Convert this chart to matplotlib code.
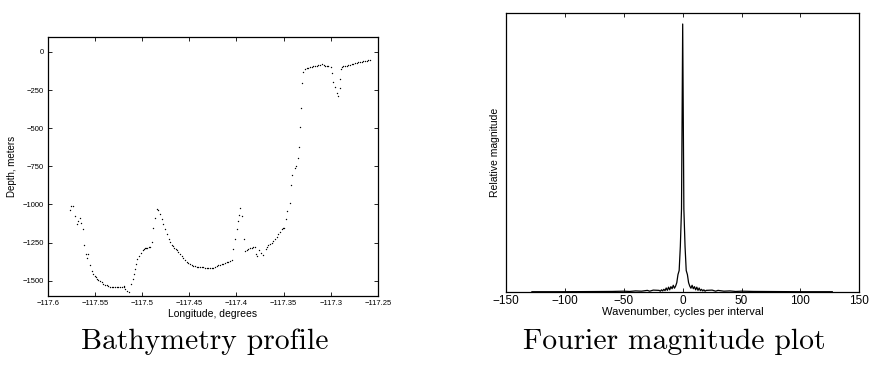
import matplotlib
matplotlib.use('Agg')
import matplotlib.pyplot as plt

plt.rcParams['font.family'] = ['Liberation Sans', 'DejaVu Sans']
plt.rcParams['axes.unicode_minus'] = True

# Bathymetry profile (longitude in degrees, depth in meters)
lon = [-117.5763, -117.5753, -117.5728, -117.5710, -117.5692, -117.5675, -117.5657,
       -117.5647, -117.5629, -117.5611, -117.5594, -117.5580, -117.5569, -117.5551,
       -117.5533, -117.5516, -117.5500, -117.5490, -117.5476, -117.5463, -117.5445,
       -117.5427, -117.5410, -117.5392, -117.5375, -117.5357, -117.5340, -117.5322,
       -117.5304, -117.5286, -117.5268, -117.5250, -117.5232, -117.5214, -117.5196,
       -117.5190, -117.5180, -117.5162, -117.5134,
       -117.5116, -117.5099, -117.5084, -117.5074, -117.5063, -117.5049, -117.5031,
       -117.5014, -117.4993, -117.4980, -117.4968, -117.4955, -117.4943, -117.4930,
       -117.4915, -117.4897, -117.4879, -117.4862, -117.4844, -117.4826, -117.4809,
       -117.4791, -117.4773, -117.4756, -117.4738, -117.4713, -117.4700, -117.4685,
       -117.4672, -117.4660, -117.4645, -117.4632, -117.4615, -117.4597, -117.4580,
       -117.4561, -117.4545, -117.4526, -117.4510, -117.4490, -117.4472, -117.4455,
       -117.4438, -117.4420, -117.4402, -117.4385, -117.4367, -117.4349, -117.4331,
       -117.4313, -117.4296, -117.4278, -117.4260, -117.4250, -117.4230, -117.4208,
       -117.4190, -117.4172, -117.4155, -117.4137, -117.4120, -117.4102, -117.4085,
       -117.4067, -117.4042,
       -117.4031, -117.4013, -117.3996, -117.3985, -117.3971, -117.3957, -117.3943,
       -117.3922, -117.3908, -117.3890, -117.3872, -117.3855, -117.3837, -117.3820,
       -117.3802, -117.3791, -117.3777, -117.3756, -117.3738, -117.3713, -117.3689,
       -117.3675, -117.3660, -117.3642, -117.3625, -117.3608, -117.3590, -117.3572,
       -117.3555, -117.3538, -117.3520, -117.3505, -117.3491, -117.3473, -117.3459,
       -117.3437, -117.3423, -117.3406, -117.3384, -117.3367, -117.3349, -117.3338,
       -117.3328, -117.3317, -117.3306, -117.3289, -117.3271, -117.3254, -117.3236,
       -117.3218, -117.3200, -117.3183, -117.3165, -117.3148, -117.3130, -117.3112,
       -117.3094, -117.3076, -117.3059, -117.3041, -117.3024, -117.2995, -117.2985,
       -117.2971, -117.2953, -117.2935, -117.2924, -117.2907, -117.2900, -117.2893,
       -117.2880, -117.2865, -117.2848, -117.2830, -117.2812, -117.2795, -117.2777,
       -117.2759, -117.2741, -117.2723, -117.2706, -117.2688, -117.2670, -117.2653,
       -117.2635, -117.2618, -117.2600, -117.2583]
depth = [-1037, -1007, -1011, -1076, -1130, -1109, -1087,
         -1120, -1163, -1265, -1326, -1348, -1326, -1396,
         -1435, -1457, -1470, -1478, -1488, -1496, -1504,
         -1511, -1519, -1526, -1531, -1537, -1539, -1539,
         -1539, -1540, -1541, -1541, -1540, -1539, -1538,
         -1537, -1554, -1565, -1576,
         -1522, -1489, -1457, -1424, -1391, -1359, -1337,
         -1315, -1298, -1292, -1287, -1285, -1283, -1280,
         -1276, -1246, -1152, -1091, -1028, -1037, -1065,
         -1098, -1130, -1163, -1196, -1228, -1246, -1265,
         -1275, -1283, -1292, -1300, -1311, -1322, -1335,
         -1348, -1362, -1376, -1386, -1393, -1398, -1402,
         -1405, -1407, -1409, -1410, -1411, -1413, -1414,
         -1415, -1417, -1417, -1418, -1417, -1410, -1402,
         -1398, -1394, -1391, -1388, -1384, -1380, -1376,
         -1372, -1365,
         -1293, -1228, -1163, -1109, -1072, -1022, -1076,
         -1228, -1304, -1296, -1289, -1286, -1283, -1280,
         -1276, -1326, -1337, -1298, -1315, -1333, -1289,
         -1278, -1267, -1258, -1250, -1240, -1228, -1212,
         -1196, -1180, -1163, -1156, -1152, -1098, -1043,
         -993, -870, -804, -761, -750, -696, -620,
         -489, -365, -202, -130, -109, -105, -102,
         -99, -96, -93, -91, -89, -87, -84,
         -80, -84, -89, -91, -93, -100, -141,
         -196, -233, -272, -289, -239, -178, -113,
         -98, -93, -91, -89, -87, -84, -80,
         -76, -73, -70, -67, -65, -63, -61,
         -59, -57, -56, -54]

# Fourier magnitude (wavenumber, relative magnitude)
wavenumber = [-128, -100, -80, -60, -50, -45, -40, -35, -30, -28, -25,
              -20, -19, -18, -17, -16, -15, -14, -13, -12, -11, -10,
              -9, -8, -7, -6, -5, -4, -3, -2, -1, 0,
              1, 2, 3, 4, 5, 6, 7, 8, 9, 10,
              11, 12, 13, 14, 15, 16, 17, 18, 19, 20,
              25, 28, 30, 35, 40, 45, 50, 60, 80, 100, 127]
magnitude = [0.001, 0.001, 0.0015, 0.002, 0.003, 0.002, 0.004, 0.003, 0.006, 0.003, 0.007,
             0.006, 0.003, 0.008, 0.004, 0.010, 0.005, 0.015, 0.006, 0.018, 0.008, 0.020,
             0.012, 0.025, 0.014, 0.022, 0.035, 0.065, 0.080, 0.170, 0.310, 1.000,
             0.310, 0.170, 0.080, 0.065, 0.035, 0.022, 0.014, 0.025, 0.012, 0.020,
             0.008, 0.018, 0.006, 0.015, 0.005, 0.010, 0.004, 0.008, 0.003, 0.006,
             0.007, 0.003, 0.006, 0.003, 0.004, 0.002, 0.003, 0.002, 0.0015, 0.001, 0.001]

lon_ticks = [-117.6, -117.55, -117.5, -117.45, -117.4, -117.35, -117.3, -117.25]
lon_labels = ['\u2212117.6', '\u2212117.55', '\u2212117.5', '\u2212117.45',
              '\u2212117.4', '\u2212117.35', '\u2212117.3', '\u2212117.25']
depth_ticks = [0, -250, -500, -750, -1000, -1250, -1500]
depth_labels = ['0', '\u2212250', '\u2212500', '\u2212750', '\u22121000', '\u22121250', '\u22121500']
wave_ticks = [-150, -100, -50, 0, 50, 100, 150]
wave_labels = ['\u2212150', '\u2212100', '\u221250', '0', '50', '100', '150']

fig = plt.figure(figsize=(8.69, 3.67), dpi=100)

# Left: bathymetry scatter
ax1 = fig.add_axes([0.0549, 0.1935, 0.380, 0.7065])
ax1.plot(lon, depth, 'k.', markersize=2.0, markeredgewidth=0)
ax1.set_xlim(-117.6, -117.25)
ax1.set_ylim(-1600, 100)
ax1.set_xticks(lon_ticks)
ax1.set_xticklabels(lon_labels)
ax1.set_yticks(depth_ticks)
ax1.set_yticklabels(depth_labels)
ax1.tick_params(direction='in', top=True, right=True, length=3, width=0.6,
                labelsize=5.5, pad=3)
ax1.set_xlabel('Longitude, degrees', fontsize=7.5, labelpad=1)
ax1.set_ylabel('Depth, meters', fontsize=7, labelpad=4)
for s in ax1.spines.values():
    s.set_linewidth(0.9)

# Right: Fourier magnitude line
ax2 = fig.add_axes([0.5823, 0.2044, 0.4066, 0.7594])
ax2.plot(wavenumber, magnitude, color='black', lw=0.9)
ax2.set_xlim(-150, 150)
ax2.set_ylim(0, 1.04)
ax2.set_xticks(wave_ticks)
ax2.set_xticklabels(wave_labels)
ax2.set_yticks([])
ax2.tick_params(axis='x', direction='in', top=True, length=3, width=0.6,
                labelsize=8.5, pad=2)
ax2.set_xlabel('Wavenumber, cycles per interval', fontsize=8, labelpad=0)
ax2.set_ylabel('Relative magnitude', fontsize=7.5, labelpad=4)
for s in ax2.spines.values():
    s.set_linewidth(0.9)

# Captions under each panel
fig.text(0.236, 0.068, 'Bathymetry profile', family='cmr10', fontsize=21.3,
         ha='center', va='center')
fig.text(0.776, 0.068, 'Fourier magnitude plot', family='cmr10', fontsize=21.3,
         ha='center', va='center')

fig.savefig('out.png', dpi=100)
